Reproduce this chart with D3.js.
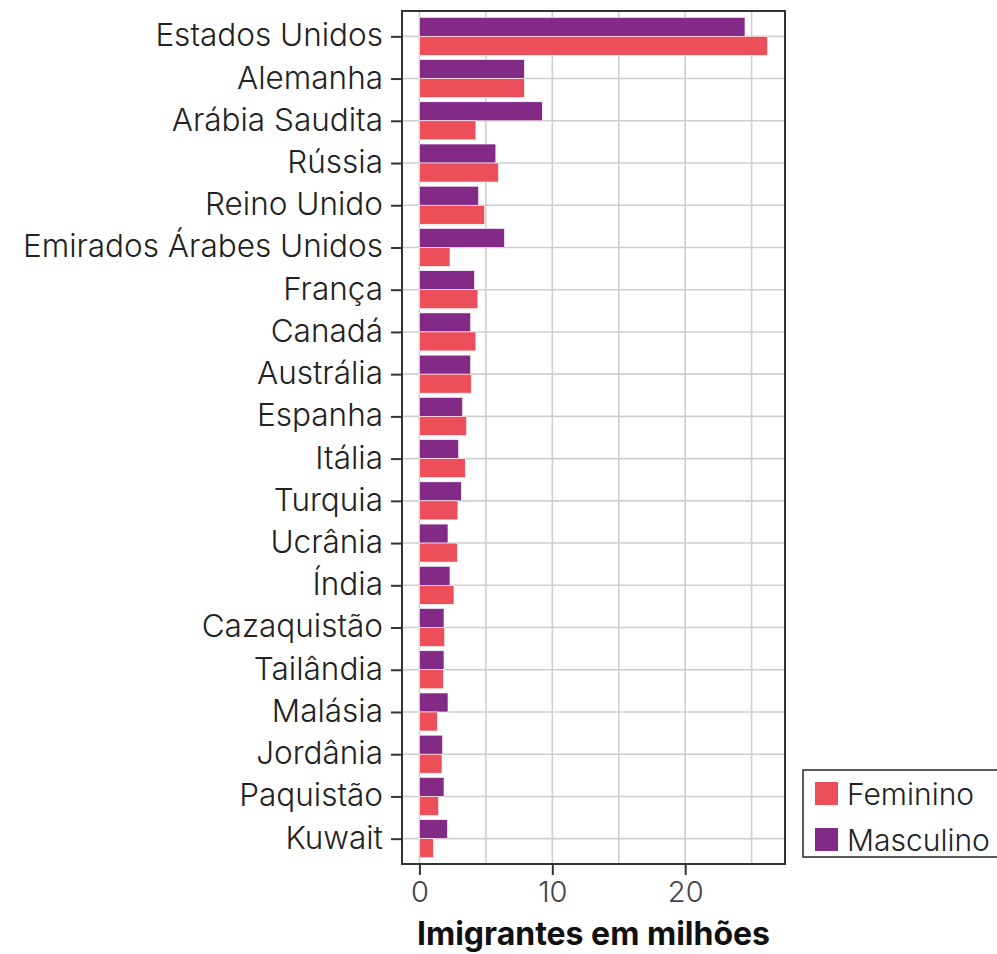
<!DOCTYPE html>
<html><head><meta charset="utf-8">
<script src="https://cdn.jsdelivr.net/npm/d3@7"></script>
<style>body{margin:0;background:#fff}svg{display:block}</style>
</head><body>
<script>
const countries = ["Estados Unidos","Alemanha","Arábia Saudita","Rússia","Reino Unido","Emirados Árabes Unidos","França","Canadá","Austrália","Espanha","Itália","Turquia","Ucrânia","Índia","Cazaquistão","Tailândia","Malásia","Jordânia","Paquistão","Kuwait"];
const masculino = [24.5,7.9,9.25,5.75,4.45,6.4,4.15,3.85,3.85,3.25,2.95,3.15,2.15,2.3,1.85,1.85,2.15,1.75,1.85,2.1];
const feminino  = [26.2,7.9,4.25,5.95,4.9,2.3,4.4,4.25,3.9,3.55,3.45,2.9,2.85,2.6,1.9,1.8,1.35,1.7,1.45,1.05];
const seriesNames = ["Feminino","Masculino"];
const seriesColors = ["#ec4f5a","#822a86"];
const xTicks = [0,10,20];
const xGrid = [0,5,10,15,20,25];
const xTitle = "Imigrantes em milhões";

const W = 997, H = 954;
const P = {l:402, r:785, t:11, b:864};
const FONT = "Inter, Roboto, sans-serif";

const svg = d3.select("body").append("svg").attr("width",W).attr("height",H);

const maxV = d3.max([...masculino,...feminino]);
const pad = maxV*0.05;
const x = d3.scaleLinear().domain([-pad, maxV+pad]).range([P.l, P.r]);
const y = d3.scalePoint().domain(countries).range([P.t, P.b]).padding(0.6);
const bh = y.step()*0.9/2;

// grid
const g = svg.append("g");
g.selectAll("line.v").data(xGrid).join("line")
  .attr("x1",d=>x(d)).attr("x2",d=>x(d)).attr("y1",P.t).attr("y2",P.b)
  .attr("stroke","#cfcfcf").attr("stroke-width",1.6);
g.selectAll("line.h").data(countries).join("line")
  .attr("x1",P.l).attr("x2",P.r).attr("y1",d=>y(d)).attr("y2",d=>y(d))
  .attr("stroke","#cfcfcf").attr("stroke-width",1.6);

// bars
const bars = svg.append("g");
bars.selectAll("rect.m").data(countries).join("rect")
  .attr("x",x(0)).attr("y",d=>y(d)-bh)
  .attr("width",(d,i)=>x(masculino[i])-x(0)).attr("height",bh)
  .attr("fill",seriesColors[1]).attr("stroke","#fff").attr("stroke-width",0.6);
bars.selectAll("rect.f").data(countries).join("rect")
  .attr("x",x(0)).attr("y",d=>y(d))
  .attr("width",(d,i)=>x(feminino[i])-x(0)).attr("height",bh)
  .attr("fill",seriesColors[0]).attr("stroke","#fff").attr("stroke-width",0.6);

// panel border
svg.append("rect").attr("x",P.l).attr("y",P.t).attr("width",P.r-P.l).attr("height",P.b-P.t)
  .attr("fill","none").attr("stroke","#333").attr("stroke-width",2);

// y axis
const ya = svg.append("g").attr("transform",`translate(${P.l},0)`)
  .call(d3.axisLeft(y).tickSize(11).tickPadding(8));
ya.select(".domain").remove();
ya.selectAll(".tick line").attr("stroke","#333").attr("stroke-width",2);
ya.selectAll(".tick text").attr("font-family",FONT).attr("font-weight",300).attr("font-size",31.5).attr("fill","#222").attr("dy","0.3em");

// x axis
const xa = svg.append("g").attr("transform",`translate(0,${P.b})`)
  .call(d3.axisBottom(x).tickValues(xTicks).tickSize(11).tickPadding(6));
xa.select(".domain").remove();
xa.selectAll(".tick line").attr("stroke","#333").attr("stroke-width",2);
xa.selectAll(".tick text").attr("font-family",FONT).attr("font-weight",300).attr("font-size",29).attr("fill","#444");

svg.append("text").attr("x",(P.l+P.r)/2).attr("y",945).attr("text-anchor","middle")
  .attr("font-family",FONT).attr("font-weight","bold").attr("font-size",32).attr("fill","#111").text(xTitle);

// legend
const lg = svg.append("g");
lg.append("rect").attr("x",803).attr("y",770).attr("width",210).attr("height",87)
  .attr("fill","#fff").attr("stroke","#333").attr("stroke-width",1.6);
seriesNames.forEach((s,i)=>{
  lg.append("rect").attr("x",815).attr("y",782+i*46).attr("width",23).attr("height",23).attr("fill",seriesColors[i]);
  lg.append("text").attr("x",847).attr("y",805+i*46).attr("font-family",FONT).attr("font-weight",300).attr("font-size",30).attr("fill","#222").text(s);
});
</script>
</body></html>
